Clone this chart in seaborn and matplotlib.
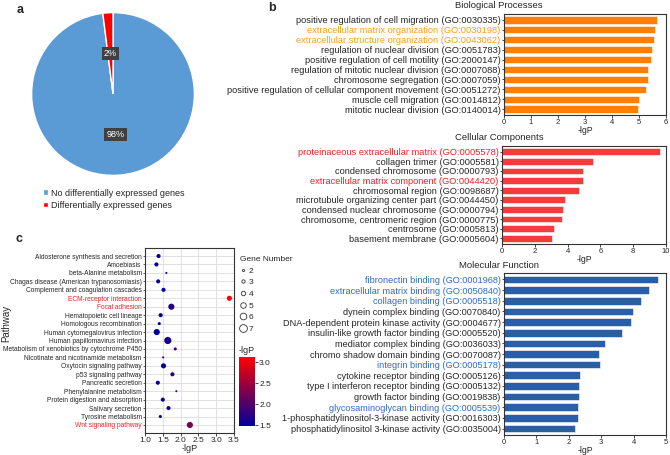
import numpy as np
import pandas as pd
import seaborn as sns
import matplotlib.pyplot as plt
from matplotlib.colors import LinearSegmentedColormap, Normalize
from matplotlib.lines import Line2D

sns.set_style("white")
plt.rcParams["font.family"] = ["Liberation Sans", "DejaVu Sans"]

# ---- panel a: pie ----
pie_labels = ["No differentially expressed genes", "Differentially expressed genes"]
pie_values = [98, 2]

# ---- panel b: GO terms ----
bp_terms = ["positive regulation of cell migration (GO:0030335)",
            "extracellular matrix organization (GO:0030198)",
            "extracellular structure organization (GO:0043062)",
            "regulation of nuclear division (GO:0051783)",
            "positive regulation of cell motility (GO:2000147)",
            "regulation of mitotic nuclear division (GO:0007088)",
            "chromosome segregation (GO:0007059)",
            "positive regulation of cellular component movement (GO:0051272)",
            "muscle cell migration (GO:0014812)",
            "mitotic nuclear division (GO:0140014)"]
bp_lgp = [5.65, 5.60, 5.57, 5.47, 5.43, 5.33, 5.33, 5.26, 5.01, 4.97]
bp_highlight = [1, 2]

cc_terms = ["proteinaceous extracellular matrix (GO:0005578)",
            "collagen trimer (GO:0005581)",
            "condensed chromosome (GO:0000793)",
            "extracellular matrix component (GO:0044420)",
            "chromosomal region (GO:0098687)",
            "microtubule organizing center part (GO:0044450)",
            "condensed nuclear chromosome (GO:0000794)",
            "chromosome, centromeric region (GO:0000775)",
            "centrosome (GO:0005813)",
            "basement membrane (GO:0005604)"]
cc_lgp = [9.63, 5.53, 4.96, 4.92, 4.72, 3.86, 3.74, 3.68, 3.19, 3.03]
cc_highlight = [0, 3]

mf_terms = ["fibronectin binding (GO:0001968)",
            "extracellular matrix binding (GO:0050840)",
            "collagen binding (GO:0005518)",
            "dynein complex binding (GO:0070840)",
            "DNA-dependent protein kinase activity (GO:0004677)",
            "insulin-like growth factor binding (GO:0005520)",
            "mediator complex binding (GO:0036033)",
            "chromo shadow domain binding (GO:0070087)",
            "integrin binding (GO:0005178)",
            "cytokine receptor binding (GO:0005126)",
            "type I interferon receptor binding (GO:0005132)",
            "growth factor binding (GO:0019838)",
            "glycosaminoglycan binding (GO:0005539)",
            "1-phosphatidylinositol-3-kinase activity (GO:0016303)",
            "phosphatidylinositol 3-kinase activity (GO:0035004)"]
mf_lgp = [4.75, 4.46, 4.22, 3.99, 3.92, 3.63, 3.13, 2.93, 2.95,
          2.34, 2.32, 2.30, 2.29, 2.28, 2.20]
mf_highlight = [0, 1, 2, 8, 12]

# ---- panel c: KEGG pathways ----
pathways = ["Aldosterone synthesis and secretion", "Amoebiasis",
            "beta-Alanine metabolism", "Chagas disease (American trypanosomiasis)",
            "Complement and coagulation cascades", "ECM-receptor interaction",
            "Focal adhesion", "Hematopoietic cell lineage",
            "Homologous recombination", "Human cytomegalovirus infection",
            "Human papillomavirus infection",
            "Metabolism of xenobiotics by cytochrome P450",
            "Nicotinate and nicotinamide metabolism", "Oxytocin signaling pathway",
            "p53 signaling pathway", "Pancreatic secretion",
            "Phenylalanine metabolism", "Protein digestion and absorption",
            "Salivary secretion", "Tyrosine metabolism", "Wnt signaling pathway"]
path_lgp = [1.38, 1.32, 1.60, 1.37, 1.52, 3.37, 1.74, 1.44, 1.40, 1.33, 1.64,
            1.85, 1.51, 1.52, 1.77, 1.36, 1.88, 1.50, 1.66, 1.43, 2.26]
gene_num = [4, 4, 2, 4, 4, 5, 6, 4, 3, 6, 7, 3, 2, 5, 4, 4, 2, 4, 4, 3, 6]
path_highlight = [5, 6, 20]

W, H = 670, 455
fig = plt.figure(figsize=(6.7, 4.55), dpi=100)


def box(l, t, r, b):
    return [l / W, 1 - b / H, (r - l) / W, (b - t) / H]


# ---------------- a ----------------
ax_pie = fig.add_axes(box(30, 11, 196, 177))
wedges, _, autot = ax_pie.pie(pie_values, colors=["#5B9BD5", "#FF0000"],
                              startangle=90, counterclock=False,
                              autopct="%d%%", pctdistance=0.5)
for t in autot:
    t.set_color("white")
    t.set_fontsize(6.5)
    t.set_bbox(dict(boxstyle="square,pad=0.25", fc="#404040", ec="none"))
ax_pie.set_xlim(-1.02, 1.02)
ax_pie.set_ylim(-1.02, 1.02)
fig.legend(wedges, pie_labels, loc="upper left",
           bbox_to_anchor=(38 / W, 1 - 184 / H), frameon=False,
           fontsize=6.5, handlelength=0.6, handleheight=0.6,
           handletextpad=0.3, labelspacing=0.35, borderpad=0)


# ---------------- b ----------------
def go_bars(rect, terms, vals, color, hl, hl_color, xmax, title, ty, fs):
    ax = fig.add_axes(box(*rect))
    sns.barplot(x=vals, y=terms, orient="h", color=color, saturation=1,
                width=0.72, edgecolor="white", linewidth=0.4, ax=ax)
    ax.set_xlim(0, xmax)
    ax.set_ylim(len(terms) - 0.4, -0.6)
    ax.set_xticks(range(0, xmax + 1, 2 if xmax > 6 else 1))
    ax.tick_params(axis="x", labelsize=5.5, length=2, width=0.6, pad=1,
                   bottom=True)
    ax.tick_params(axis="y", labelsize=fs, length=1.5, width=0.6, pad=1,
                   left=True)
    ax.set_xlabel("-lgP", fontsize=6.3, labelpad=0)
    ax.set_ylabel("")
    for i, lab in enumerate(ax.get_yticklabels()):
        if i in hl:
            lab.set_color(hl_color)
    for s in ax.spines.values():
        s.set_color("#333333")
        s.set_linewidth(0.8)
    fig.text(499 / W, 1 - ty / H, title, ha="center", va="center",
             fontsize=6.8)
    return ax


go_bars((504, 14, 666, 115), bp_terms, bp_lgp, "#FF8000", bp_highlight,
        "#F5A01E", 6, "Biological Processes", 5, 6.7)
go_bars((502, 146, 666, 244), cc_terms, cc_lgp, "#F53B3B", cc_highlight,
        "#F02020", 10, "Cellular Components", 137, 6.7)
go_bars((504, 273, 666, 435), mf_terms, mf_lgp, "#2A5EA6", mf_highlight,
        "#2E6BC0", 5, "Molecular Function", 266, 6.55)

# ---------------- c ----------------
df = pd.DataFrame({"Pathway": pathways, "lgP": path_lgp, "Genes": gene_num})
cmap = LinearSegmentedColormap.from_list("br", ["#00009C", "#FF0000"])
norm = Normalize(1.48, 3.12)
size_map = {n: (0.74 * n) ** 2 for n in range(2, 8)}

ax_dot = fig.add_axes(box(145, 248, 234, 433))
ax_dot.set_axisbelow(True)
ax_dot.grid(True, color="#dcdcdc", linewidth=0.6)
sns.scatterplot(data=df, x="lgP", y="Pathway", size="Genes", sizes=size_map,
                hue="lgP", palette=cmap, hue_norm=norm, linewidth=0,
                legend=False, ax=ax_dot)
ax_dot.set_xlim(1.0, 3.5)
ax_dot.set_ylim(len(pathways) - 0.05, -0.95)
ax_dot.set_xticks(np.arange(1.0, 3.51, 0.5))
ax_dot.tick_params(axis="x", labelsize=6, length=2, width=0.6, pad=1,
                   bottom=True)
ax_dot.tick_params(axis="y", labelsize=4.75, length=1.5, width=0.5, pad=0.8,
                   left=True)
for i, lab in enumerate(ax_dot.get_yticklabels()):
    if i in path_highlight:
        lab.set_color("#F02020")
ax_dot.set_xlabel("-lgP", fontsize=6.5, labelpad=0)
ax_dot.set_ylabel("Pathway", fontsize=7)
ax_dot.yaxis.set_label_coords(-1.5, 0.59)
for s in ax_dot.spines.values():
    s.set_color("#333333")
    s.set_linewidth(0.8)

handles = [Line2D([], [], ls="", marker="o", markersize=0.8 * n,
                  markerfacecolor="white", markeredgecolor="#333333",
                  markeredgewidth=0.6) for n in range(2, 8)]
fig.legend(handles, [str(n) for n in range(2, 8)], title="Gene Number",
           loc="upper left", bbox_to_anchor=(236 / W, 1 - 252 / H),
           frameon=False, fontsize=6, title_fontsize=6, handlelength=0.8,
           handletextpad=0.2, labelspacing=0.45, borderpad=0,
           alignment="left")

cax = fig.add_axes(box(239, 357, 255, 426))
cb = fig.colorbar(plt.cm.ScalarMappable(norm=norm, cmap=cmap), cax=cax)
cb.outline.set_visible(False)
cb.set_ticks([1.5, 2.0, 2.5, 3.0])
cb.ax.tick_params(labelsize=6, length=2, width=0.6, pad=1)
cax.set_title("-lgP", fontsize=6.5, loc="left", pad=3)

# panel letters
for letter, x, y in [("a", 17, 10), ("b", 268, 8), ("c", 16, 239)]:
    fig.text(x / W, 1 - y / H, letter, fontsize=9, fontweight="bold",
             ha="left", va="center")

plt.savefig("out.png", dpi=100)
